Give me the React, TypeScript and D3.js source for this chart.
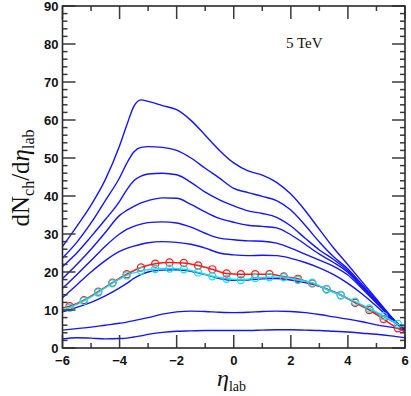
import React from "react";
import * as d3 from "d3";

// pseudorapidity grid shared by the blue centrality curves
const etaGrid = [-6, -5.5, -5, -4.5, -4, -3.75, -3.5, -3.25, -3, -2.5, -2, -1.5, -1, -0.5, 0, 0.5, 1, 1.5, 2, 2.5, 3, 3.5, 4, 4.5, 5, 5.5, 6];

const cent1 = [26.7, 32.0, 37.6, 44.3, 53.2, 58.6, 63.6, 65.3, 64.9, 63.8, 62.7, 59.9, 56.0, 52.0, 48.7, 46.6, 45.5, 43.6, 40.5, 36.2, 31.2, 26.3, 21.9, 17.4, 12.9, 8.4, 4.0];
const cent2 = [23.7, 27.8, 32.9, 38.8, 44.8, 48.6, 51.6, 52.8, 53.0, 52.8, 52.0, 50.0, 47.3, 44.7, 42.0, 40.9, 39.9, 38.8, 36.3, 32.3, 27.9, 24.0, 20.8, 16.7, 12.5, 8.3, 4.2];
const cent3 = [21.4, 25.0, 29.3, 33.8, 38.6, 41.6, 44.0, 45.2, 45.8, 46.0, 45.6, 43.6, 41.0, 39.0, 37.4, 36.1, 35.4, 34.4, 32.1, 28.9, 25.8, 23.3, 20.3, 16.3, 12.2, 8.2, 4.4];
const cent4 = [18.3, 22.0, 26.0, 30.4, 34.9, 36.2, 37.3, 38.2, 38.8, 39.5, 39.4, 37.8, 35.8, 34.1, 33.1, 32.3, 32.0, 31.6, 29.8, 27.3, 24.7, 22.5, 19.9, 16.0, 12.0, 8.1, 4.6];
const cent5 = [15.7, 19.3, 23.0, 26.8, 30.0, 31.2, 32.0, 32.6, 33.0, 33.2, 32.9, 31.8, 30.2, 28.9, 28.5, 28.2, 28.1, 27.6, 26.3, 24.7, 23.1, 21.5, 19.2, 15.6, 11.8, 8.0, 4.8];
const cent6 = [13.2, 16.6, 20.0, 23.0, 25.4, 26.2, 26.8, 27.3, 27.7, 28.0, 27.8, 27.3, 26.3, 25.0, 24.5, 24.3, 24.4, 24.3, 23.6, 22.5, 21.1, 19.3, 17.0, 14.2, 11.0, 7.7, 5.1];
const minBias = [9.5, 10.7, 12.0, 13.7, 15.8, 17.0, 18.3, 19.3, 20.0, 20.5, 20.6, 20.2, 19.3, 18.3, 17.8, 17.9, 18.2, 18.3, 17.9, 17.2, 16.2, 14.8, 13.0, 11.2, 9.3, 7.3, 5.3];
const periph1 = [4.7, 5.1, 5.5, 6.0, 6.5, 6.8, 7.2, 7.6, 8.0, 8.9, 9.5, 9.7, 9.6, 9.4, 9.3, 9.4, 9.6, 9.7, 9.6, 9.3, 8.8, 8.2, 7.6, 6.9, 6.1, 5.5, 4.9];
const periph2 = [2.4, 2.7, 2.6, 2.4, 2.5, 2.6, 2.9, 3.2, 3.6, 4.1, 4.4, 4.5, 4.6, 4.6, 4.6, 4.6, 4.7, 4.8, 4.8, 4.7, 4.6, 4.4, 4.2, 3.9, 3.6, 3.2, 2.7];

const blueCurves = [cent1, cent2, cent3, cent4, cent5, cent6, minBias, periph1, periph2];

// curves with circle markers
const markerEta = [-5.75, -5.25, -4.75, -4.25, -3.75, -3.25, -2.75, -2.25, -1.75, -1.25, -0.75, -0.25, 0.25, 0.75, 1.25, 1.75, 2.25, 2.75, 3.25, 3.75, 4.25, 4.75, 5.25, 5.75];
const redVals = [11.0, 12.6, 14.8, 17.2, 19.4, 21.2, 22.2, 22.5, 22.4, 21.7, 20.7, 19.6, 19.4, 19.4, 19.4, 18.8, 18.2, 17.0, 15.5, 13.9, 11.9, 10.0, 7.6, 5.2];
const cyanVals = [10.6, 12.4, 14.6, 17.0, 19.1, 20.3, 20.8, 20.9, 20.7, 19.9, 18.9, 18.2, 17.9, 18.4, 18.6, 18.6, 17.9, 17.2, 15.4, 13.9, 12.2, 10.4, 8.4, 6.3];
const redEnds = [10.5, 4.3];
const cyanEnds = [9.8, 5.5];

const xMajor = [-6, -4, -2, 0, 2, 4, 6];
const xMinor = [-5, -3, -1, 1, 3, 5];
const yMajor = [0, 10, 20, 30, 40, 50, 60, 70, 80, 90];
const yMinor = d3.range(2, 90, 2).filter((v) => v % 10 !== 0);

const W = 411;
const H = 396;
const L = 62.5;
const R = 405;
const T = 6;
const B = 348;

export default function App() {
  const x = d3.scaleLinear().domain([-6, 6]).range([L, R]);
  const y = d3.scaleLinear().domain([0, 90]).range([B, T]);

  const line = d3
    .line<[number, number]>()
    .x((d) => x(d[0]))
    .y((d) => y(d[1]))
    .curve(d3.curveMonotoneX);

  const withEnds = (vals: number[], ends: number[]): [number, number][] => [
    [-6, ends[0]],
    ...markerEta.map((e, i) => [e, vals[i]] as [number, number]),
    [6, ends[1]],
  ];

  const fmt = (v: number) => (v < 0 ? "\u2212" + Math.abs(v) : String(v));
  const tickCol = "#3a3a3a";
  const major = 13;
  const minor = 5;

  return (
    <svg width={W} height={H} style={{ position: "absolute", left: 0, top: 0, background: "#fff" }}>
      <defs>
        <clipPath id="plot">
          <rect x={L} y={T} width={R - L} height={B - T} />
        </clipPath>
      </defs>

      <g clipPath="url(#plot)" fill="none">
        {blueCurves.map((c, i) => (
          <path key={i} d={line(etaGrid.map((e, j) => [e, c[j]]))!} stroke="#1414ff" strokeWidth={1.4} />
        ))}
        <path d={line(withEnds(redVals, redEnds))!} stroke="#ff1a1a" strokeWidth={1.5} />
        {markerEta.map((e, i) => (
          <circle key={"r" + i} cx={x(e)} cy={y(redVals[i])} r={3.6} stroke="#ff1a1a" strokeWidth={1.2} />
        ))}
        <path d={line(withEnds(cyanVals, cyanEnds))!} stroke="#12e0ee" strokeWidth={1.5} />
        {markerEta.map((e, i) => (
          <circle key={"c" + i} cx={x(e)} cy={y(cyanVals[i])} r={3.6} stroke="#12e0ee" strokeWidth={1.2} />
        ))}
      </g>

      {/* ticks, all pointing inward */}
      <g stroke={tickCol} strokeWidth={1.5}>
        {xMajor.map((v) => (
          <g key={"xm" + v}>
            <line x1={x(v)} x2={x(v)} y1={B} y2={B - major} />
            <line x1={x(v)} x2={x(v)} y1={T} y2={T + major} />
          </g>
        ))}
        {xMinor.map((v) => (
          <g key={"xn" + v}>
            <line x1={x(v)} x2={x(v)} y1={B} y2={B - minor} />
            <line x1={x(v)} x2={x(v)} y1={T} y2={T + minor} />
          </g>
        ))}
        {yMajor.map((v) => (
          <g key={"ym" + v}>
            <line x1={L} x2={L + major} y1={y(v)} y2={y(v)} />
            <line x1={R} x2={R - major} y1={y(v)} y2={y(v)} />
          </g>
        ))}
        {yMinor.map((v) => (
          <g key={"yn" + v}>
            <line x1={L} x2={L + minor} y1={y(v)} y2={y(v)} />
            <line x1={R} x2={R - minor} y1={y(v)} y2={y(v)} />
          </g>
        ))}
      </g>

      <rect x={L} y={T} width={R - L} height={B - T} fill="none" stroke="#2a2a2a" strokeWidth={1.6} />

      <g fontFamily="'Liberation Sans', Arial, sans-serif" fontWeight="bold" fontSize={13} fill="#111">
        {xMajor.map((v) => (
          <text key={"xl" + v} x={x(v)} y={365} textAnchor="middle">
            {fmt(v)}
          </text>
        ))}
        {yMajor.map((v) => (
          <text key={"yl" + v} x={L - 4} y={y(v)} dy="0.36em" textAnchor="end">
            {v}
          </text>
        ))}
      </g>

      <g fontFamily="'Liberation Serif', 'Times New Roman', serif" fill="#111">
        <text x={286} y={48} fontSize={15}>5 TeV</text>
        <text x={217} y={386} fontSize={24} fontStyle="italic">
          η<tspan fontSize={14} fontStyle="normal" dy={5}>lab</tspan>
        </text>
        <text transform="translate(29,178) rotate(-90)" textAnchor="middle" fontSize={25}>
          dN<tspan fontSize={16} dy={5}>ch</tspan>
          <tspan dy={-5}>/d</tspan>
          <tspan fontStyle="italic">η</tspan>
          <tspan fontSize={16} dy={5}>lab</tspan>
        </text>
      </g>
    </svg>
  );
}
